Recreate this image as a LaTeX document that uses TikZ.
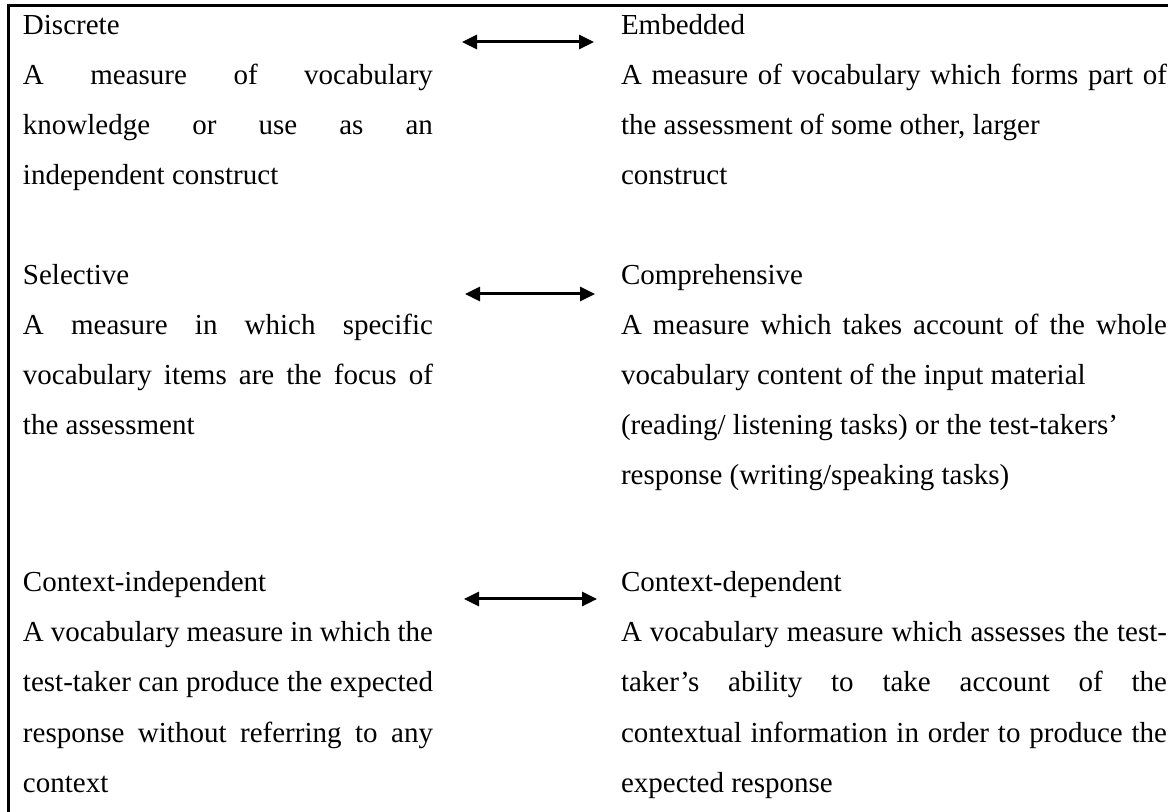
\documentclass[tikz,border=0pt]{standalone}
\usepackage{fontspec}
\setmainfont{Liberation Serif}
\usetikzlibrary{arrows.meta}
\tikzset{
  txt/.style={anchor=base west, inner sep=0pt, outer sep=0pt,
    font=\fontsize{14.5pt}{25pt}\selectfont},
  pairarrow/.style={{Triangle[length=7.5pt,width=7pt]}-{Triangle[length=7.5pt,width=7pt]},
    line width=1.5pt},
  frameline/.style={line width=1.5pt}
}
% justified lines of the two columns
\newcommand{\jleft}[1]{\makebox[205pt][s]{#1}}
\newcommand{\jright}[1]{\makebox[273pt][s]{#1}}

\begin{document}
\begin{tikzpicture}[x=0.5pt,y=-0.5pt]
\useasboundingbox (0,0) rectangle (1174,812);

% open frame: top and left rules
\coordinate (fbl) at (8,812);
\coordinate (ftl) at (8,6);
\coordinate (ftr) at (1168,6);
\draw[frameline] (fbl) -- (ftl) -- (ftr);

% left column
\node[txt] (l1)  at (23,35)  {Discrete};
\node[txt] (l2)  at (23,85)  {\jleft{A measure of vocabulary}};
\node[txt] (l3)  at (23,135) {\jleft{knowledge or use as an}};
\node[txt] (l4)  at (23,185) {independent construct};
\node[txt] (l5)  at (23,285) {Selective};
\node[txt] (l6)  at (23,335) {\jleft{A measure in which specific}};
\node[txt] (l7)  at (23,385) {\jleft{vocabulary items are the focus of}};
\node[txt] (l8)  at (23,435) {the assessment};
\node[txt] (l9)  at (23,592) {Context-independent};
\node[txt] (l10) at (23,642) {\jleft{A vocabulary measure in which the}};
\node[txt] (l11) at (23,692) {\jleft{test-taker can produce the expected}};
\node[txt] (l12) at (23,742) {\jleft{response without referring to any}};
\node[txt] (l13) at (23,792) {context};

% right column
\node[txt] (r1)  at (621,35)  {Embedded};
\node[txt] (r2)  at (621,85)  {\jright{A measure of vocabulary which forms part of}};
\node[txt] (r3)  at (621,135) {the assessment of some other, larger};
\node[txt] (r4)  at (621,185) {construct};
\node[txt] (r5)  at (621,285) {Comprehensive};
\node[txt] (r6)  at (621,335) {\jright{A measure which takes account of the whole}};
\node[txt] (r7)  at (621,385) {vocabulary content of the input material};
\node[txt] (r8)  at (621,435) {(reading/ listening tasks) or the test-takers’};
\node[txt] (r9)  at (621,485) {response (writing/speaking tasks)};
\node[txt] (r10) at (621,592) {Context-dependent};
\node[txt] (r11) at (621,642) {\jright{A vocabulary measure which assesses the test-}};
\node[txt] (r12) at (621,692) {\jright{taker’s ability to take account of the}};
\node[txt] (r13) at (621,742) {\jright{contextual information in order to produce the}};
\node[txt] (r14) at (621,792) {expected response};

% double-headed arrows between the paired terms
\coordinate (a1l) at (462,42);  \coordinate (a1r) at (594,42);
\coordinate (a2l) at (465,294); \coordinate (a2r) at (595,294);
\coordinate (a3l) at (464,599); \coordinate (a3r) at (597,599);
\draw[pairarrow] (a1l) -- (a1r);
\draw[pairarrow] (a2l) -- (a2r);
\draw[pairarrow] (a3l) -- (a3r);
\end{tikzpicture}
\end{document}
